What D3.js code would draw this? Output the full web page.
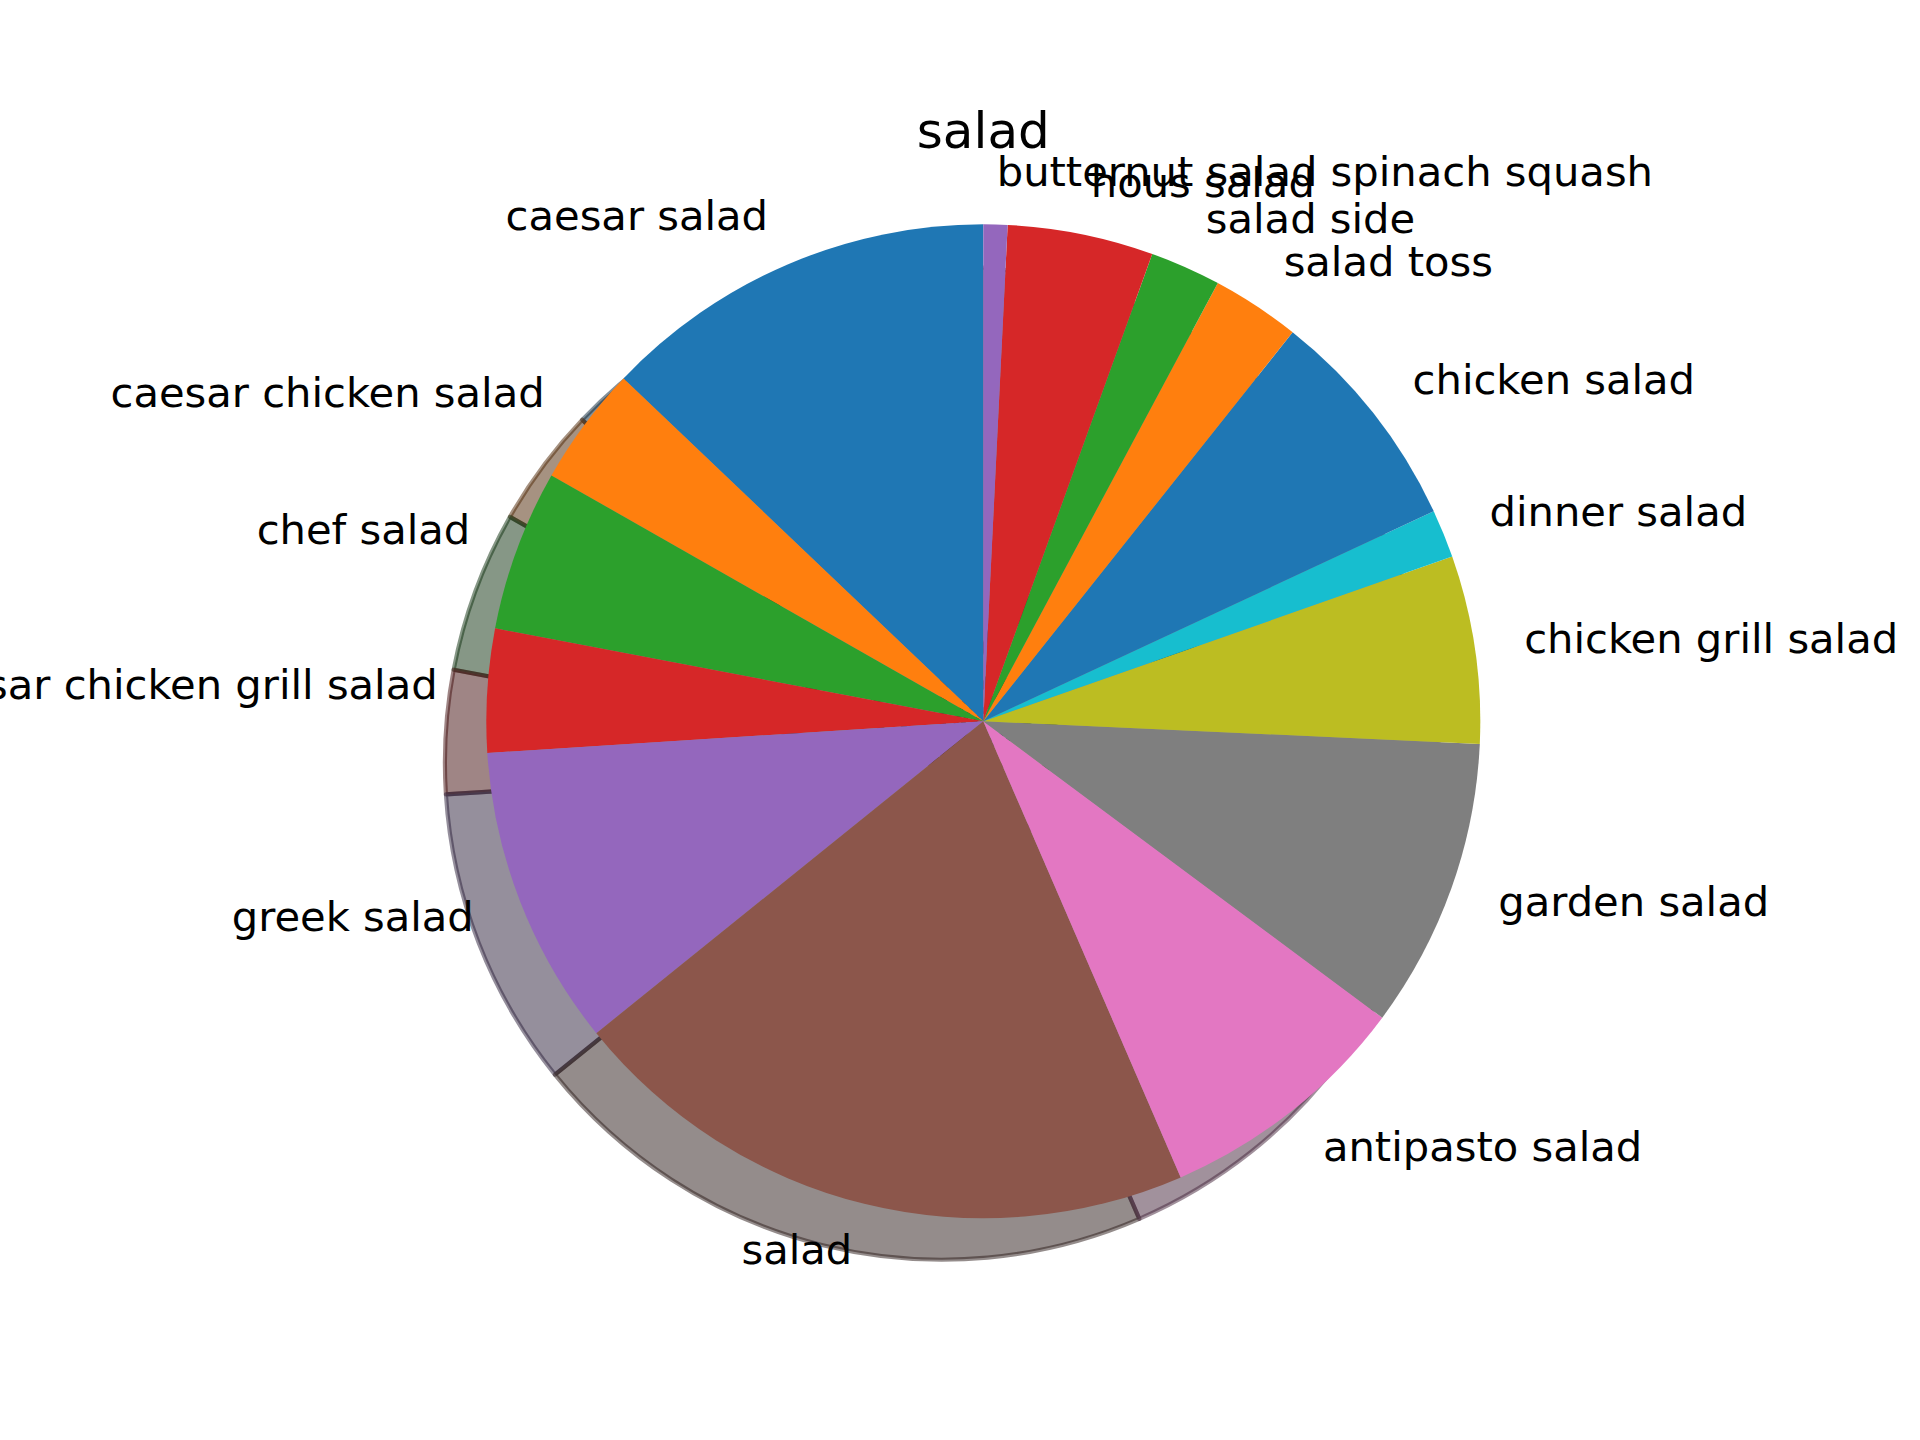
<!DOCTYPE html>
<html>
<head>
<meta charset="utf-8">
<script src="https://cdn.jsdelivr.net/npm/d3@7"></script>
<style>
  html, body { margin: 0; padding: 0; background: #ffffff; }
  svg { display: block; }
  text { font-family: "DejaVu Sans", sans-serif; fill: #000000; }
</style>
</head>
<body>
<div id="chart"></div>
<script>
// ---- data (counter-clockwise from 12 o'clock, percent of total) ----
const categories = [
  "caesar salad",
  "caesar chicken salad",
  "chef salad",
  "caesar chicken grill salad",
  "greek salad",
  "salad",
  "antipasto salad",
  "garden salad",
  "chicken grill salad",
  "dinner salad",
  "chicken salad",
  "salad toss",
  "salad side",
  "hous salad",
  "butternut salad spinach squash"
];
const values = [12.88, 3.88, 5.24, 4.01, 9.78, 20.70, 8.33, 9.44, 6.10, 1.57, 7.36, 2.87, 2.30, 4.74, 0.78];
const titleText = "salad";
const palette = ["#1f77b4", "#ff7f0e", "#2ca02c", "#d62728", "#9467bd",
                 "#8c564b", "#e377c2", "#7f7f7f", "#bcbd22", "#17becf"];

// ---- layout ----
const W = 1920, H = 1440;
const cx = 983.3, cy = 721.3, R = 497;
const shadowOff = 41.4;          // 0.02 * dpi/72 in data units
const labelFont = 41.67;         // 10pt @ 300dpi
const titleFont = 50;            // 12pt @ 300dpi
const lw = 4.17;                 // 1pt

const data = categories.map((c, i) => ({ name: c, value: values[i] }));

const svg = d3.select("#chart").append("svg")
  .attr("width", W).attr("height", H)
  .attr("viewBox", `0 0 ${W} ${H}`);

const color = d3.scaleOrdinal().domain(d3.range(values.length)).range(
  d3.range(values.length).map(i => palette[i % palette.length]));

const pie = d3.pie().sort(null).value(d => d.value)
  .startAngle(0).endAngle(-2 * Math.PI);
const arcs = pie(data);
const arc = d3.arc().innerRadius(0).outerRadius(R);

const shade = c => {
  const r = d3.rgb(c);
  return d3.rgb(r.r * 0.3, r.g * 0.3, r.b * 0.3).toString();
};

// shadows (all below wedges)
const gS = svg.append("g").attr("transform", `translate(${cx - shadowOff},${cy + shadowOff})`);
gS.selectAll("path").data(arcs).enter().append("path")
  .attr("d", arc)
  .attr("fill", (d, i) => shade(color(i)))
  .attr("fill-opacity", 0.5)
  .attr("stroke", (d, i) => shade(color(i)))
  .attr("stroke-opacity", 0.5)
  .attr("stroke-width", lw)
  .attr("stroke-linejoin", "round");

// wedges
const gP = svg.append("g").attr("transform", `translate(${cx},${cy})`);
gP.selectAll("path").data(arcs).enter().append("path")
  .attr("d", arc)
  .attr("fill", (d, i) => color(i));

// labels at 1.1 R
const gL = svg.append("g").attr("transform", `translate(${cx},${cy})`);
gL.selectAll("text").data(arcs).enter().append("text")
  .each(function(d) {
    const a = (d.startAngle + d.endAngle) / 2;
    const x = Math.sin(a) * 1.1 * R;
    const y = -Math.cos(a) * 1.1 * R;
    d3.select(this)
      .attr("x", x)
      .attr("y", y + 0.276 * labelFont)
      .attr("text-anchor", x > 0 ? "start" : "end");
  })
  .attr("font-size", labelFont)
  .text(d => d.data.name);

// title
svg.append("text")
  .attr("x", cx).attr("y", 148)
  .attr("text-anchor", "middle")
  .attr("font-size", titleFont)
  .text(titleText);
</script>
</body>
</html>
